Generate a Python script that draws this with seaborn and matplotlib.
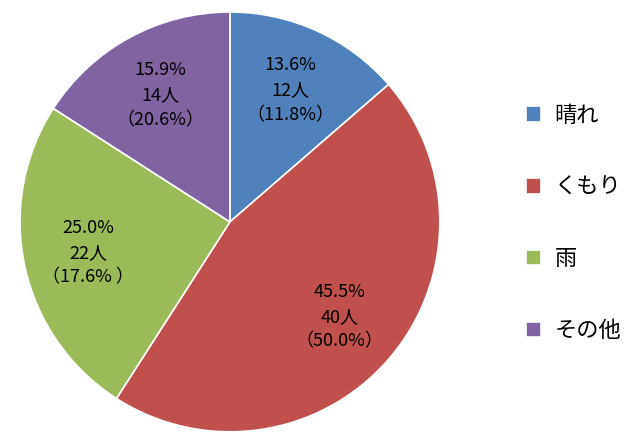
import numpy as np
import seaborn as sns
import matplotlib.pyplot as plt

sns.set_theme(style="white")
plt.rcParams['font.family'] = ['Noto Sans CJK JP', 'DejaVu Sans']

categories = ['晴れ', 'くもり', '雨', 'その他']
counts = [12, 40, 22, 14]
other_pct = ['（11.8%）', '（50.0%）', '（17.6% ）', '（20.6%）']
colors = ['#4F81BD', '#C0504D', '#9BBB59', '#8064A2']

fig = plt.figure(figsize=(6.4, 4.46), dpi=100)
ax = fig.add_axes([0.028, 0.027, 0.6625, 0.951])

total = sum(counts)
wedges, _ = ax.pie(counts, colors=colors, startangle=90, counterclock=False,
                   wedgeprops=dict(edgecolor='white', linewidth=1.2))

for w, c, p in zip(wedges, counts, other_pct):
    ang = np.deg2rad((w.theta1 + w.theta2) / 2)
    x, y = 0.69 * np.cos(ang), 0.69 * np.sin(ang)
    txt = f"{c / total * 100:.1f}%\n{c}人\n{p}"
    ax.text(x, y, txt, ha='center', va='center', fontsize=13,
            linespacing=1.5, color='black')

ax.set_xlim(-1.01, 1.01)
ax.set_ylim(-1.01, 1.01)
ax.set_aspect('equal')

fig.legend(wedges, categories, loc='center left', bbox_to_anchor=(0.79, 0.5),
           frameon=False, fontsize=16, labelspacing=2.2, handlelength=0.7,
           handleheight=0.7, handletextpad=0.6, labelcolor='black')

fig.savefig('out.png', dpi=100)
